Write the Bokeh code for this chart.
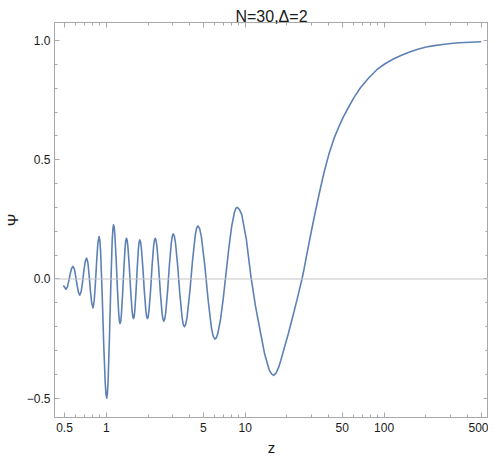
from bokeh.plotting import figure
from bokeh.models import FixedTicker, LogAxis, LinearAxis, Span
from bokeh.embed import file_html
from bokeh.resources import INLINE

# ---- data (z on a log axis, Psi) ----
z_vals = [0.491, 0.512,
          0.524, 0.536, 0.549, 0.562, 0.575,
          0.589, 0.602, 0.616, 0.630, 0.644,
          0.659, 0.674, 0.689, 0.705, 0.721,
          0.737, 0.752, 0.768, 0.785, 0.802,
          0.818, 0.835, 0.852, 0.869, 0.887,
          0.899, 0.910, 0.933, 0.957, 0.982, 0.994, 1.007,
          1.018, 1.030, 1.053, 1.078, 1.102, 1.115, 1.127,
          1.140, 1.152, 1.177, 1.203, 1.229, 1.243, 1.256,
          1.270, 1.283, 1.310, 1.339, 1.367, 1.382, 1.396,
          1.413, 1.429, 1.463, 1.498, 1.534, 1.552, 1.570,
          1.587, 1.603, 1.637, 1.671, 1.706, 1.724, 1.742,
          1.764, 1.786, 1.832, 1.879, 1.928, 1.952, 1.977,
          2.003, 2.028, 2.082, 2.136, 2.192, 2.221, 2.249,
          2.282, 2.314, 2.381, 2.450, 2.521, 2.557, 2.594,
          2.635, 2.677, 2.762, 2.850, 2.941, 2.987, 3.034,
          3.090, 3.148, 3.266, 3.388, 3.516, 3.581, 3.648,
          3.731, 3.816, 3.993, 4.177, 4.370, 4.469, 4.571,
          4.701, 4.836, 5.114, 5.410, 5.722, 5.886, 6.053,
          6.194, 6.340, 6.639, 6.954, 7.283, 7.628, 7.988, 8.366, 8.562, 8.762,
          9.099, 9.452, 10.20, 11.00, 11.87, 12.80, 13.81, 14.90, 15.49, 16.03,
          16.67, 17.38, 18.07, 18.79, 20.42, 22.13, 23.82, 25.64, 26.51, 27.67,
          29.85, 31.99, 34.28, 37.15, 40.36, 43.75, 47.53, 50.82, 54.33, 60.53,
          67.61, 77.45, 88.72, 101.6, 116.7, 133.4, 152.8, 175.0, 200.9, 230.1,
          263.6, 302.0, 345.9, 416.9, 500.0]

psi_vals = [-0.027, -0.043,
            -0.034, -0.010, 0.020, 0.044, 0.053,
            0.041, 0.011, -0.026, -0.056, -0.068,
            -0.053, -0.014, 0.034, 0.073, 0.088,
            0.068, 0.016, -0.049, -0.101, -0.121,
            -0.092, -0.018, 0.075, 0.149, 0.178,
            0.161, 0.113, -0.056, -0.266, -0.435, -0.483, -0.500,
            -0.482, -0.431, -0.249, -0.024, 0.158, 0.209, 0.227,
            0.217, 0.187, 0.084, -0.044, -0.147, -0.177, -0.187,
            -0.178, -0.153, -0.063, 0.047, 0.137, 0.162, 0.171,
            0.163, 0.139, 0.055, -0.050, -0.134, -0.158, -0.166,
            -0.158, -0.135, -0.052, 0.050, 0.133, 0.156, 0.164,
            0.156, 0.133, 0.050, -0.052, -0.135, -0.158, -0.166,
            -0.158, -0.134, -0.050, 0.055, 0.139, 0.163, 0.171,
            0.162, 0.138, 0.051, -0.057, -0.144, -0.168, -0.177,
            -0.168, -0.142, -0.051, 0.063, 0.154, 0.180, 0.189,
            0.180, 0.152, 0.055, -0.066, -0.163, -0.190, -0.200,
            -0.190, -0.160, -0.054, 0.077, 0.183, 0.213, 0.223,
            0.211, 0.178, 0.059, -0.088, -0.207, -0.240, -0.252,
            -0.247, -0.231, -0.171, -0.081, 0.025, 0.130, 0.220, 0.280, 0.296, 0.301,
            0.291, 0.270, 0.165, 0.010, -0.115, -0.215, -0.315, -0.382, -0.398, -0.404,
            -0.395, -0.372, -0.341, -0.305, -0.231, -0.152, -0.078, 0.000, 0.040, 0.098,
            0.196, 0.282, 0.363, 0.452, 0.530, 0.592, 0.642, 0.679, 0.711, 0.760,
            0.802, 0.843, 0.878, 0.903, 0.923, 0.939, 0.952, 0.964, 0.973, 0.979,
            0.984, 0.988, 0.991, 0.993, 0.995]

x_major = [0.5, 1, 5, 10, 50, 100, 500]
x_major_labels = ["0.5", "1", "5", "10", "50", "100", "500"]
x_minor = [0.6, 0.7, 0.8, 0.9, 2, 3, 4, 6, 7, 8, 9,
           20, 30, 40, 60, 70, 80, 90, 200, 300, 400]
y_major = [-0.5, 0.0, 0.5, 1.0]
y_major_labels = ["\u22120.5", "0.0", "0.5", "1.0"]
y_minor = [-0.4, -0.3, -0.2, -0.1, 0.1, 0.2, 0.3, 0.4, 0.6, 0.7, 0.8, 0.9]

title_text = "N=30,\u0394=2"
x_label = "z"
y_label = "\u03a8"

FONT = "Liberation Sans"
FRAME = "#a8a8a8"
TEXT = "#1a1a1a"

p = figure(width=488, height=458, x_axis_type="log",
           x_range=(0.4236, 565), y_range=(-0.581, 1.076),
           output_backend="svg", toolbar_location=None,
           title=title_text,
           min_border_left=0, min_border_right=0, min_border_top=22, min_border_bottom=0)

p.title.text_font = FONT
p.title.text_font_size = "16px"
p.title.text_font_style = "normal"
p.title.text_color = TEXT
p.title.align = "center"
p.title.offset = 22
p.title.standoff = -4

p.grid.visible = False
p.outline_line_color = FRAME
p.background_fill_color = "white"
p.border_fill_color = "white"


def style_axis(ax, show_labels):
    ax.axis_line_color = FRAME
    ax.major_tick_line_color = FRAME
    ax.minor_tick_line_color = FRAME
    ax.major_tick_in = 5
    ax.major_tick_out = 0
    ax.minor_tick_in = 3
    ax.minor_tick_out = 0
    ax.major_label_text_font = FONT
    ax.major_label_text_color = TEXT
    ax.axis_label_text_font = FONT
    ax.axis_label_text_color = TEXT
    ax.axis_label_text_font_style = "normal"
    ax.axis_label_text_font_size = "15px"
    if show_labels:
        ax.major_label_text_font_size = "12px"
    else:
        ax.major_label_text_font_size = "0px"
        ax.major_label_standoff = 0


xb = p.xaxis[0]
xb.ticker = FixedTicker(ticks=x_major, minor_ticks=x_minor)
xb.major_label_overrides = dict(zip(x_major, x_major_labels))
xb.axis_label = x_label
style_axis(xb, True)
xb.major_label_standoff = 5
xb.axis_label_standoff = 4

yl = p.yaxis[0]
yl.ticker = FixedTicker(ticks=y_major, minor_ticks=y_minor)
yl.major_label_overrides = dict(zip(y_major, y_major_labels))
yl.axis_label = y_label
style_axis(yl, True)
yl.major_label_standoff = 4
yl.axis_label_standoff = 3

xt = LogAxis(ticker=FixedTicker(ticks=x_major, minor_ticks=x_minor))
xt.major_label_overrides = {v: "" for v in x_major}
style_axis(xt, False)
p.add_layout(xt, "above")

yr = LinearAxis(ticker=FixedTicker(ticks=y_major, minor_ticks=y_minor))
yr.major_label_overrides = {v: "" for v in y_major}
style_axis(yr, False)
p.add_layout(yr, "right")

p.add_layout(Span(location=0, dimension="width", line_color="#c4c4c4", line_width=1))

p.line(z_vals, psi_vals, line_color="#5E81B5", line_width=1.6, line_join="round")

open("out.html", "w").write(file_html(p, INLINE))
